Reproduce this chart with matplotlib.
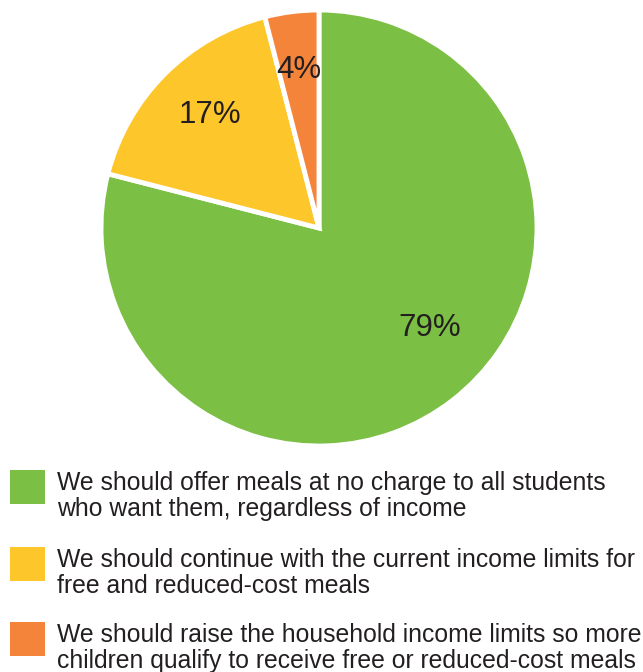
import matplotlib
matplotlib.use('Agg')
import matplotlib.pyplot as plt
import matplotlib.patches as mpatches

plt.rcParams['font.family'] = ['Liberation Sans', 'DejaVu Sans']

# data
shares = [79, 17, 4]
labels = [
    "We should offer meals at no charge to all students\nwho want them, regardless of income",
    "We should continue with the current income limits for\nfree and reduced-cost meals",
    "We should raise the household income limits so more\nchildren qualify to receive free or reduced-cost meals",
]
colors = ['#7BBF44', '#FDC62B', '#F5843B']
text_color = '#231F20'

W, H = 643, 672
fig = plt.figure(figsize=(W / 100, H / 100), dpi=100)

# pie axes: center (319, 228), radius 218 px
cx, cy, r = 319, 228, 218
ax = fig.add_axes([(cx - r) / W, (H - cy - r) / H, 2 * r / W, 2 * r / H])
wedges, texts, autotexts = ax.pie(
    shares, colors=colors, startangle=90, counterclock=False,
    autopct='%d%%', pctdistance=0.73, radius=1.0,
    wedgeprops=dict(edgecolor='white', linewidth=3.5, clip_on=False),
    textprops=dict(color=text_color, fontsize=22.5),
)
# big slice label sits off its midpoint in the original
autotexts[0].set_position((0.51, -0.46))
autotexts[1].set_position((-0.50, 0.52))
ax.set_xlim(-1.0, 1.0)
ax.set_ylim(-1.0, 1.0)
ax.set_aspect('equal')
ax.axis('off')

# legend drawn by hand
box_tops = [470, 547, 622]
for top, col, lab in zip(box_tops, colors, labels):
    rect = mpatches.Rectangle((10 / W, 1 - (top + 34) / H), 35 / W, 34 / H,
                              transform=fig.transFigure, facecolor=col,
                              edgecolor='none')
    fig.patches.append(rect)
    fig.text(57 / W, 1 - (top + 1) / H, lab, ha='left', va='top',
             fontsize=17.8, color=text_color, linespacing=1.13)

fig.savefig('out.png', dpi=100)
